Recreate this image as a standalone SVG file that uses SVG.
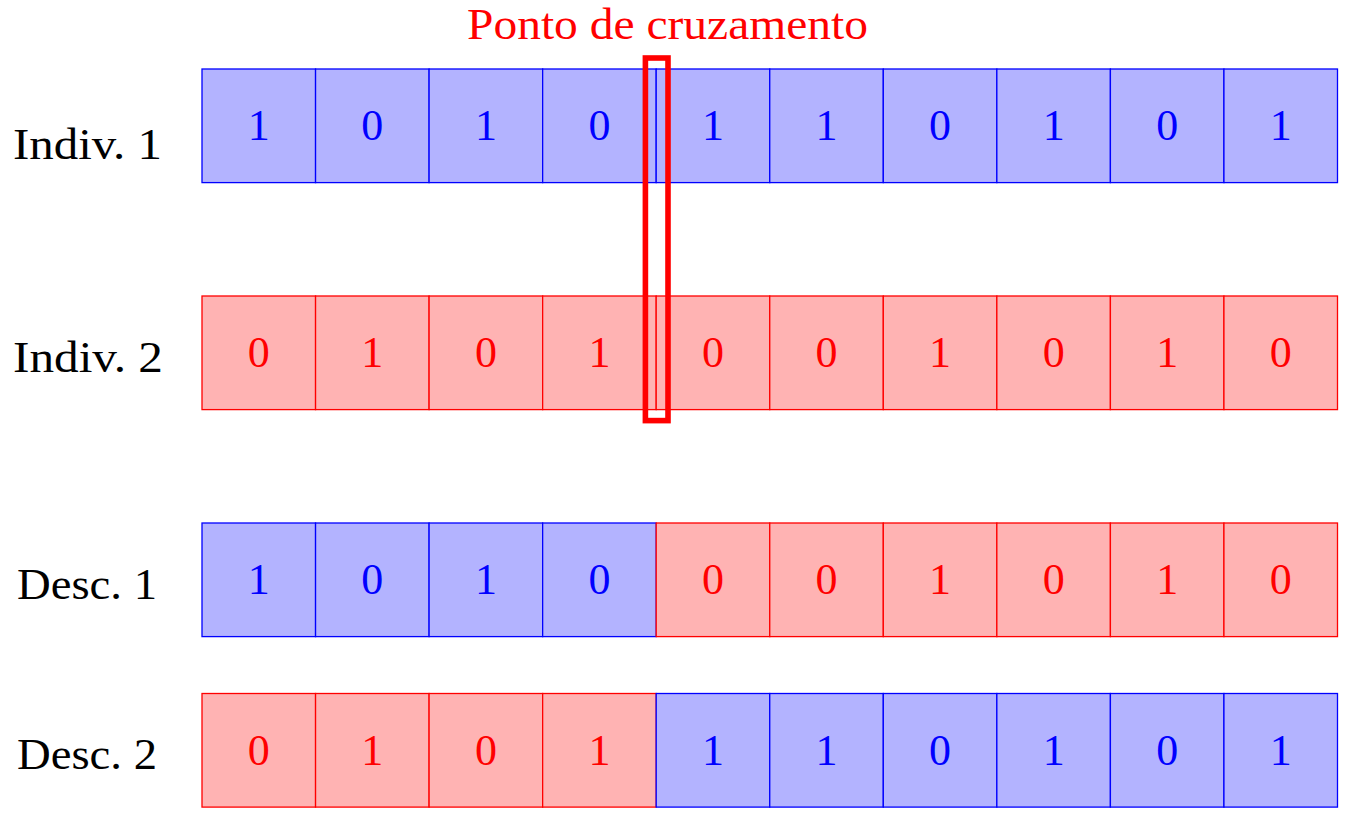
<svg xmlns="http://www.w3.org/2000/svg" width="1360" height="820" viewBox="0 0 1360 820">
<style>
  .b { fill: #b3b3ff; stroke: #0000ff; stroke-width: 1.3; }
  .r { fill: #ffb3b3; stroke: #ff0000; stroke-width: 1.3; }
  .tb { fill: #0000ff; font-family: "Liberation Serif", "DejaVu Serif", serif; font-size: 44px; text-anchor: middle; }
  .tr { fill: #ff0000; font-family: "Liberation Serif", "DejaVu Serif", serif; font-size: 44px; text-anchor: middle; }
  .lbl { fill: #000000; font-family: "Liberation Serif", "DejaVu Serif", serif; font-size: 44px; }
  .title { fill: #ff0000; font-family: "Liberation Serif", "DejaVu Serif", serif; font-size: 44px; }
  .cross { fill: none; stroke: #ff0000; stroke-width: 5.6; }
</style>
<rect width="1360" height="820" fill="#ffffff"/>

<g id="labels">
  <text class="lbl" x="13" y="159" textLength="149" lengthAdjust="spacingAndGlyphs">Indiv. 1</text>
  <text class="lbl" x="13" y="371.5" textLength="150" lengthAdjust="spacingAndGlyphs">Indiv. 2</text>
  <text class="lbl" x="17" y="599" textLength="140" lengthAdjust="spacingAndGlyphs">Desc. 1</text>
  <text class="lbl" x="17" y="769" textLength="140" lengthAdjust="spacingAndGlyphs">Desc. 2</text>
</g>

<g id="indiv1">
  <rect class="b" x="202" y="69" width="113.55" height="113.6"/><text class="tb" x="258.78" y="140">1</text>
  <rect class="b" x="315.55" y="69" width="113.55" height="113.6"/><text class="tb" x="372.33" y="140">0</text>
  <rect class="b" x="429.1" y="69" width="113.55" height="113.6"/><text class="tb" x="485.88" y="140">1</text>
  <rect class="b" x="542.65" y="69" width="113.55" height="113.6"/><text class="tb" x="599.43" y="140">0</text>
  <rect class="b" x="656.2" y="69" width="113.55" height="113.6"/><text class="tb" x="712.98" y="140">1</text>
  <rect class="b" x="769.75" y="69" width="113.55" height="113.6"/><text class="tb" x="826.53" y="140">1</text>
  <rect class="b" x="883.3" y="69" width="113.55" height="113.6"/><text class="tb" x="940.08" y="140">0</text>
  <rect class="b" x="996.85" y="69" width="113.55" height="113.6"/><text class="tb" x="1053.63" y="140">1</text>
  <rect class="b" x="1110.4" y="69" width="113.55" height="113.6"/><text class="tb" x="1167.18" y="140">0</text>
  <rect class="b" x="1223.95" y="69" width="113.55" height="113.6"/><text class="tb" x="1280.73" y="140">1</text>
</g>

<g id="indiv2">
  <rect class="r" x="202" y="296" width="113.55" height="113.6"/><text class="tr" x="258.78" y="367">0</text>
  <rect class="r" x="315.55" y="296" width="113.55" height="113.6"/><text class="tr" x="372.33" y="367">1</text>
  <rect class="r" x="429.1" y="296" width="113.55" height="113.6"/><text class="tr" x="485.88" y="367">0</text>
  <rect class="r" x="542.65" y="296" width="113.55" height="113.6"/><text class="tr" x="599.43" y="367">1</text>
  <rect class="r" x="656.2" y="296" width="113.55" height="113.6"/><text class="tr" x="712.98" y="367">0</text>
  <rect class="r" x="769.75" y="296" width="113.55" height="113.6"/><text class="tr" x="826.53" y="367">0</text>
  <rect class="r" x="883.3" y="296" width="113.55" height="113.6"/><text class="tr" x="940.08" y="367">1</text>
  <rect class="r" x="996.85" y="296" width="113.55" height="113.6"/><text class="tr" x="1053.63" y="367">0</text>
  <rect class="r" x="1110.4" y="296" width="113.55" height="113.6"/><text class="tr" x="1167.18" y="367">1</text>
  <rect class="r" x="1223.95" y="296" width="113.55" height="113.6"/><text class="tr" x="1280.73" y="367">0</text>
</g>

<g id="desc1">
  <rect class="b" x="202" y="523" width="113.55" height="113.6"/><text class="tb" x="258.78" y="594">1</text>
  <rect class="b" x="315.55" y="523" width="113.55" height="113.6"/><text class="tb" x="372.33" y="594">0</text>
  <rect class="b" x="429.1" y="523" width="113.55" height="113.6"/><text class="tb" x="485.88" y="594">1</text>
  <rect class="b" x="542.65" y="523" width="113.55" height="113.6"/><text class="tb" x="599.43" y="594">0</text>
  <rect class="r" x="656.2" y="523" width="113.55" height="113.6"/><text class="tr" x="712.98" y="594">0</text>
  <rect class="r" x="769.75" y="523" width="113.55" height="113.6"/><text class="tr" x="826.53" y="594">0</text>
  <rect class="r" x="883.3" y="523" width="113.55" height="113.6"/><text class="tr" x="940.08" y="594">1</text>
  <rect class="r" x="996.85" y="523" width="113.55" height="113.6"/><text class="tr" x="1053.63" y="594">0</text>
  <rect class="r" x="1110.4" y="523" width="113.55" height="113.6"/><text class="tr" x="1167.18" y="594">1</text>
  <rect class="r" x="1223.95" y="523" width="113.55" height="113.6"/><text class="tr" x="1280.73" y="594">0</text>
</g>

<g id="desc2">
  <rect class="r" x="202" y="693.5" width="113.55" height="113.6"/><text class="tr" x="258.78" y="764.5">0</text>
  <rect class="r" x="315.55" y="693.5" width="113.55" height="113.6"/><text class="tr" x="372.33" y="764.5">1</text>
  <rect class="r" x="429.1" y="693.5" width="113.55" height="113.6"/><text class="tr" x="485.88" y="764.5">0</text>
  <rect class="r" x="542.65" y="693.5" width="113.55" height="113.6"/><text class="tr" x="599.43" y="764.5">1</text>
  <rect class="b" x="656.2" y="693.5" width="113.55" height="113.6"/><text class="tb" x="712.98" y="764.5">1</text>
  <rect class="b" x="769.75" y="693.5" width="113.55" height="113.6"/><text class="tb" x="826.53" y="764.5">1</text>
  <rect class="b" x="883.3" y="693.5" width="113.55" height="113.6"/><text class="tb" x="940.08" y="764.5">0</text>
  <rect class="b" x="996.85" y="693.5" width="113.55" height="113.6"/><text class="tb" x="1053.63" y="764.5">1</text>
  <rect class="b" x="1110.4" y="693.5" width="113.55" height="113.6"/><text class="tb" x="1167.18" y="764.5">0</text>
  <rect class="b" x="1223.95" y="693.5" width="113.55" height="113.6"/><text class="tb" x="1280.73" y="764.5">1</text>
</g>

<g id="crossover">
  <rect class="cross" x="645.4" y="58" width="22.6" height="362.6"/>
  <text class="title" x="467" y="39" textLength="401" lengthAdjust="spacingAndGlyphs">Ponto de cruzamento</text>
</g>
</svg>
